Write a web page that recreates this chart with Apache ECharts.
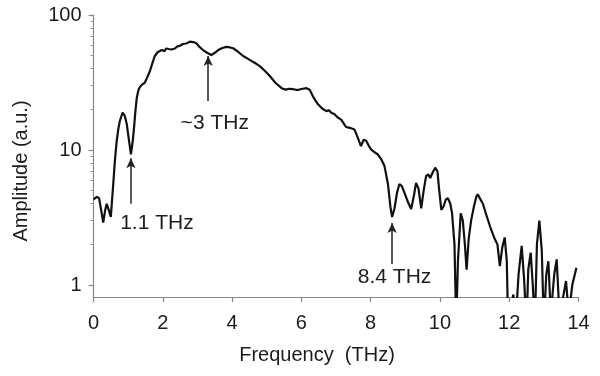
<!DOCTYPE html>
<html>
<head>
<meta charset="utf-8">
<script src="https://cdn.jsdelivr.net/npm/echarts@6/dist/echarts.min.js"></script>
<style>html,body{margin:0;padding:0;background:#fff}#c{width:600px;height:376px}</style>
</head>
<body>
<div id="c"></div>
<script>
// Frequency (THz)
var freq = [0.00,0.10,0.16,0.22,0.28,0.33,0.38,0.44,0.50,0.57,0.62,0.67,0.72,0.76,0.84,0.90,0.96,1.02,1.08,1.13,1.17,1.21,1.25,1.30,1.34,1.40,1.48,1.55,1.63,1.70,1.77,1.85,1.97,2.05,2.10,2.16,2.25,2.35,2.42,2.49,2.58,2.68,2.78,2.88,2.97,3.06,3.16,3.28,3.40,3.50,3.60,3.72,3.84,3.94,4.03,4.15,4.32,4.45,4.60,4.70,4.80,4.95,5.09,5.25,5.43,5.55,5.65,5.77,5.90,6.00,6.15,6.24,6.35,6.48,6.60,6.72,6.80,6.86,6.95,7.05,7.15,7.29,7.40,7.53,7.62,7.72,7.80,7.87,7.95,8.01,8.10,8.20,8.30,8.40,8.50,8.57,8.62,8.69,8.76,8.83,8.90,8.98,9.08,9.17,9.25,9.31,9.38,9.46,9.53,9.60,9.66,9.72,9.80,9.87,9.93,9.98,10.04,10.10,10.17,10.23,10.30,10.35,10.42,10.47,10.52,10.60,10.66,10.72,10.77,10.83,10.90,10.98,11.05,11.09,11.15,11.24,11.34,11.45,11.58,11.66,11.73,11.80,11.87,11.93,11.97,12.05,12.12,12.18,12.27,12.36,12.43,12.50,12.55,12.62,12.68,12.74,12.80,12.87,12.94,13.00,13.07,13.13,13.20,13.30,13.37,13.45,13.55,13.64,13.72,13.82,13.94];
// Amplitude (a.u.)
var amp = [4.3,4.5,4.4,3.6,2.9,3.5,4.0,3.6,3.2,5.6,8.5,11.7,14.5,16.4,18.9,18.0,15.6,12.0,9.3,11.5,14.6,19.5,24.4,28.0,29.3,30.5,31.5,34.5,38.5,44,49.7,53,55,54,56.5,56,55.5,56.5,58.5,59,61,61.5,63.5,63,61.7,58,55,52.5,50.5,52.5,55,57,58,57.5,56.7,54,49.7,47.5,45,43.5,41.8,38.5,35.3,31.5,28.7,28.0,28.4,28.2,27.8,28.3,28.7,28.0,24.5,21.8,20.3,19.4,19.7,18.9,18.5,17.4,16.8,14.8,14.6,14.2,12.5,10.7,11.9,11.7,10.7,10.1,9.7,9.3,8.6,7.6,5.6,3.8,3.19,3.7,4.8,5.6,5.4,4.8,4.1,3.65,4.6,5.7,5.2,3.7,5.0,6.4,6.6,6.2,6.9,7.4,6.9,5.0,3.6,3.8,4.3,4.4,4.0,3.4,2.0,0.5,1.5,3.4,3.0,2.0,1.3,2.2,3.0,3.8,4.5,4.7,4.4,4.0,3.3,2.7,2.2,2.0,1.38,1.9,2.25,1.5,0.5,0.7,0.85,0.5,1.2,1.95,1.1,0.5,1.3,1.74,1.0,0.5,2.0,3.0,1.8,0.5,1.2,1.5,0.6,1.2,1.55,0.6,0.8,1.07,0.6,1.0,1.34];
// tick labels
var xTicks = [0,2,4,6,8,10,12,14];
var yMajor = [1,10,100];
var yMinor = [2,3,4,5,6,7,8,9,20,30,40,50,60,70,80,90];
// annotations: text, arrow frequency, arrow tail, arrow tip, label anchor
var annText = ['1.1 THz','~3 THz','8.4 THz'];
var annFreq = [1.08,3.31,8.62];
var annTail = [4.0,23.1,1.43];
var annTip = [8.7,49.7,2.88];
var annLabelX = [1.83,3.50,8.69];
var annLabelY = [2.88,15.8,1.15];

var FONT = 'Liberation Sans, Arial, sans-serif';
var TXT = '#1c1c1c';
var chart = echarts.init(document.getElementById('c'), null, {renderer:'canvas'});
var lineData = freq.map(function(f,i){return [f, amp[i]];});
var markData = annFreq.map(function(f,i){
  return [{coord:[f, annTail[i]], symbol:'none'}, {coord:[f, annTip[i]], symbol:'arrow'}];
});
var labelData = annText.map(function(t,i){return {name:t, value:[annLabelX[i], annLabelY[i]]};});

var yBase = {
  type:'log', logBase:10, min:0.815, max:100, gridIndex:0,
  splitLine:{show:false}
};
chart.setOption({
  animation:false,
  backgroundColor:'#fff',
  grid:{left:93.5, right:21.5, top:15, bottom:79},
  xAxis:{
    type:'value', min:0, max:14, interval:2,
    name:'Frequency  (THz)', nameLocation:'middle', nameGap:48,
    nameTextStyle:{fontFamily:FONT, fontSize:20, color:TXT, padding:[0,38,0,0]},
    axisLine:{lineStyle:{color:'#888', width:1.2}},
    axisTick:{show:true, inside:false, length:5, lineStyle:{color:'#888', width:1.2}},
    axisLabel:{fontFamily:FONT, fontSize:20, color:TXT, margin:16,
      customValues:xTicks},
    splitLine:{show:false}
  },
  yAxis:[
    Object.assign({}, yBase, {
      name:'Amplitude (a.u.)', nameLocation:'middle', nameGap:62, nameRotate:90,
      nameTextStyle:{fontFamily:FONT, fontSize:20, color:TXT, padding:[0,30,0,0]},
      axisLine:{show:true, lineStyle:{color:'#888', width:1.2}},
      axisTick:{show:true, length:5, customValues:yMajor, lineStyle:{color:'#888', width:1.2}},
      axisLabel:{fontFamily:FONT, fontSize:20, color:TXT, margin:12, customValues:yMajor,
        formatter:function(v){return String(Math.round(v));}}
    }),
    Object.assign({}, yBase, {
      position:'left', offset:0,
      axisLine:{show:false},
      axisTick:{show:true, length:3, customValues:yMinor, lineStyle:{color:'#999', width:1}},
      axisLabel:{show:false}
    })
  ],
  series:[
    {
      type:'line', data:lineData, showSymbol:false, symbol:'none', clip:true,
      lineStyle:{color:'#111', width:2.2}, yAxisIndex:0,
      markLine:{
        silent:true, symbol:['none','arrow'], symbolSize:[7,10],
        label:{show:false},
        lineStyle:{color:'#222', width:1.5, type:'solid', opacity:1},
        data:markData
      }
    },
    {
      type:'scatter', data:labelData, symbolSize:0, yAxisIndex:0,
      itemStyle:{opacity:1, color:'rgba(0,0,0,0)'},
      label:{show:true, position:'inside', formatter:'{b}', fontFamily:FONT, fontSize:21, color:TXT, opacity:1}
    }
  ]
});
</script>
</body>
</html>
